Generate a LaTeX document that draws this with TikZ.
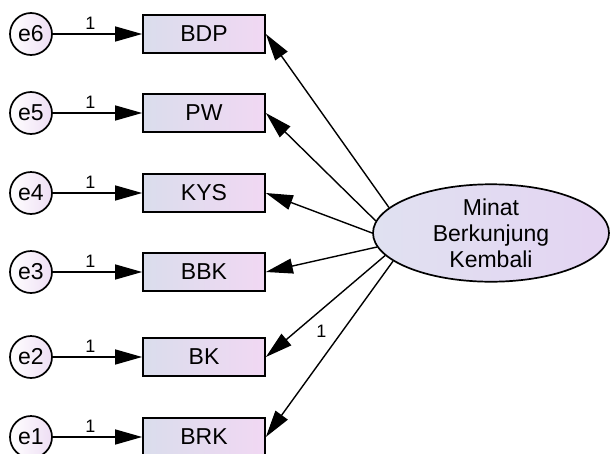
\documentclass[tikz,border=0pt]{standalone}
\usepackage{fontspec}
\setmainfont{Liberation Sans}
\usetikzlibrary{arrows.meta,shapes.geometric}
\definecolor{boxL}{RGB}{218,221,236}
\definecolor{boxR}{RGB}{241,216,243}
\definecolor{ellL}{RGB}{224,225,241}
\definecolor{ellR}{RGB}{228,212,242}
\definecolor{errR}{RGB}{238,222,244}
\tikzset{
  obs/.style={draw=black, line width=1.7pt, rectangle, minimum width=122pt,
    minimum height=38pt, inner sep=0pt, left color=boxL, right color=boxR,
    font=\fontsize{23}{25}\selectfont},
  err/.style={draw=black, line width=1.7pt, circle, minimum size=42pt,
    inner sep=0pt, left color=white, right color=errR,
    font=\fontsize{23}{25}\selectfont},
  lat/.style={draw=black, line width=1.7pt, ellipse, minimum width=236pt,
    minimum height=84pt, inner sep=0pt, left color=ellL, right color=ellR,
    align=center, font=\fontsize{23}{26}\selectfont},
  path/.style={line width=1.4pt, -{Triangle[length=27pt,width=15pt]}},
  one/.style={font=\fontsize{18}{19}\selectfont, inner sep=1pt}
}
\begin{document}
\begin{tikzpicture}[x=1pt,y=-1pt]
\useasboundingbox (0,0) rectangle (610,453);

% measured variables
\node[obs] (bdp) at (204,34) {BDP};
\node[obs] (pw)  at (204,113) {PW};
\node[obs] (kys) at (204,193) {KYS};
\node[obs] (bbk) at (204,272) {BBK};
\node[obs] (bk)  at (204,357) {BK};
\node[obs] (brk) at (204,437) {BRK};

% error terms
\node[err] (e6) at (31,34) {e6};
\node[err] (e5) at (31,113) {e5};
\node[err] (e4) at (31,193) {e4};
\node[err] (e3) at (31,272) {e3};
\node[err] (e2) at (31,357) {e2};
\node[err] (e1) at (31,437) {e1};

% latent construct
\node[lat] (mbk) at (491,233) {Minat\\Berkunjung\\Kembali};

% error paths, all fixed at 1
\foreach \e/\v in {e6/bdp,e5/pw,e4/kys,e3/bbk,e2/bk,e1/brk}{
  \draw[path] (\e) -- (\v.west) node[one, pos=0.42, above=3pt] {1};
}

% loadings
\draw[path] (mbk.166) -- (bdp.east);
\draw[path] (mbk.174) -- (pw.east);
\draw[path] (mbk.180) -- (kys.east);
\draw[path] (mbk.187) -- (bbk.east);
\draw[path] (mbk.192) -- (bk.east);
\draw[path] (mbk.196) -- (brk.east) node[one, pos=0.4, left=14pt] {1};
\end{tikzpicture}
\end{document}
